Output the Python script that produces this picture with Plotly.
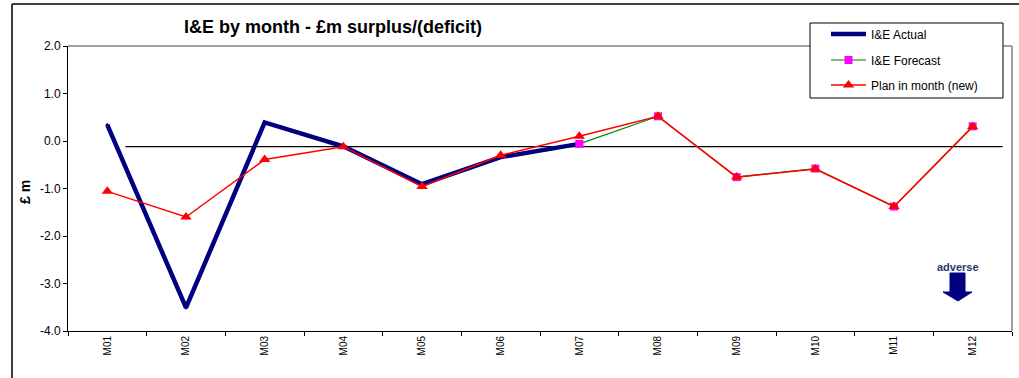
import plotly.graph_objects as go

months = ["M01", "M02", "M03", "M04", "M05", "M06", "M07", "M08", "M09", "M10", "M11", "M12"]
actual = [0.34, -3.51, 0.39, -0.11, -0.91, -0.34, -0.06, None, None, None, None, None]
forecast = [None, None, None, None, None, None, -0.06, 0.52, -0.76, -0.58, -1.38, 0.31]
plan = [-1.06, -1.60, -0.39, -0.12, -0.96, -0.30, 0.10, 0.52, -0.76, -0.59, -1.38, 0.30]
baseline_value = -0.12
baseline_span = [0.23, 11.38]
y_ticks = [-4.0, -3.0, -2.0, -1.0, 0.0, 1.0, 2.0]
y_tick_labels = ["-4.0", "-3.0", "-2.0", "-1.0", "0.0", "1.0", "2.0"]

W, H = 1019, 378
L, R, T, B = 68, 7, 46, 47
PW, PH = W - L - R, H - T - B


def px(x):
    return (x - L) / PW


def py(y):
    return (H - B - y) / PH


FONT = "Liberation Sans, Arial, sans-serif"

fig = go.Figure()
fig.add_trace(go.Scatter(x=months, y=actual, name="I&E Actual", mode="lines+markers",
                         line=dict(color="#000080", width=4.5),
                         marker=dict(symbol="diamond", size=3, color="#000080"),
                         legend="legend"))
fig.add_trace(go.Scatter(x=months, y=forecast, name="I&E Forecast", mode="lines+markers",
                         line=dict(color="#008000", width=1.2),
                         marker=dict(symbol="square", size=8, color="#FF00FF"),
                         legend="legend2"))
fig.add_trace(go.Scatter(x=months, y=plan, name="Plan in month (new)", mode="lines+markers",
                         line=dict(color="#FF0000", width=1.5),
                         marker=dict(symbol="triangle-up", size=10, color="#FF0000"),
                         legend="legend3"))

shapes = [
    dict(type="line", xref="x", yref="y", x0=baseline_span[0], x1=baseline_span[1],
         y0=baseline_value, y1=baseline_value, line=dict(color="black", width=1.2), layer="below"),
    dict(type="line", xref="paper", yref="paper", x0=0, x1=1, y0=1, y1=1,
         line=dict(color="#808080", width=1.5)),
    dict(type="line", xref="paper", yref="paper", x0=1, x1=1, y0=0, y1=1,
         line=dict(color="#808080", width=1.5)),
    dict(type="line", xref="paper", yref="paper", x0=px(12), x1=px(12), y0=py(4), y1=py(400),
         line=dict(color="black", width=1.5)),
    dict(type="line", xref="paper", yref="paper", x0=px(12), x1=px(1030), y0=py(4), y1=py(4),
         line=dict(color="black", width=1.5)),
    dict(type="rect", xref="paper", yref="paper", x0=px(810), x1=px(1003), y0=py(98), y1=py(23),
         fillcolor="white", line=dict(color="black", width=1), layer="above"),
]
arrow_pts = [(950, 273), (965, 273), (965, 292), (972, 292), (958, 301), (943, 292), (950, 292)]
path = "M " + " L ".join(f"{px(x)},{py(y)}" for x, y in arrow_pts) + " Z"
shapes.append(dict(type="path", xref="paper", yref="paper", path=path,
                   fillcolor="#000080", line=dict(color="#000080", width=1)))

annotations = [
    dict(text="<b>£ m</b>", xref="paper", yref="paper", x=px(25), y=py(192), textangle=-90,
         showarrow=False, font=dict(family=FONT, size=14, color="black"),
         xanchor="center", yanchor="middle"),
    dict(text="<b>adverse</b>", xref="paper", yref="paper", x=px(958), y=py(267),
         showarrow=False, font=dict(family=FONT, size=11, color="#1F3A6E"),
         xanchor="center", yanchor="middle"),
]


def leg(ycenter):
    return dict(x=px(826), y=py(ycenter), xanchor="left", yanchor="middle",
                bgcolor="rgba(0,0,0,0)", borderwidth=0,
                font=dict(family=FONT, size=12, color="black"),
                itemwidth=35, tracegroupgap=0)


fig.update_layout(
    width=W, height=H,
    margin=dict(l=L, r=R, t=T, b=B),
    paper_bgcolor="white", plot_bgcolor="white",
    font=dict(family=FONT, size=11, color="black"),
    title=dict(text="<b>I&E by month - £m surplus/(deficit)</b>", xref="paper", x=px(333), xanchor="center",
               yref="container", y=1 - 27 / H, yanchor="middle",
               font=dict(family=FONT, size=18, color="black")),
    showlegend=True,
    legend=leg(34),
    legend2=leg(60),
    legend3=leg(85),
    shapes=shapes,
    annotations=annotations,
    xaxis=dict(type="category", range=[-0.5, 11.5], showline=True, linecolor="black", linewidth=1,
               ticks="outside", ticklen=4, tickcolor="black", tickson="boundaries",
               tickangle=-90, showgrid=False, zeroline=False,
               tickfont=dict(family=FONT, size=10, color="black")),
    yaxis=dict(range=[-4, 2], tickvals=y_ticks, ticktext=y_tick_labels,
               showline=True, linecolor="black", linewidth=1,
               ticks="outside", ticklen=4, tickcolor="black",
               showgrid=False, zeroline=False,
               tickfont=dict(family=FONT, size=12, color="black")),
)

fig.write_html("out.html")
